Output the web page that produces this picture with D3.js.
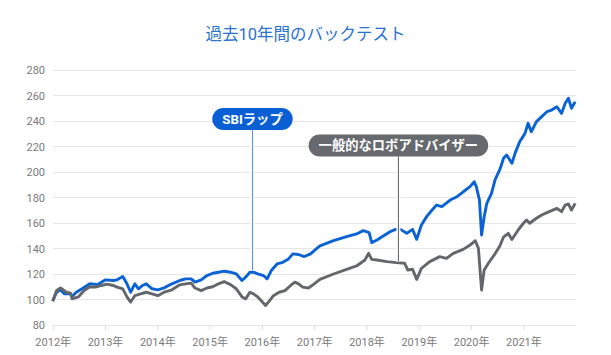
<!DOCTYPE html>
<html><head><meta charset="utf-8">
<script src="https://cdn.jsdelivr.net/npm/d3@7"></script>
<style>
html,body{margin:0;padding:0;background:#fff;}
svg{display:block;font-family:Roboto,"Noto Sans CJK JP",sans-serif;}
</style></head>
<body><svg id="c" width="611" height="355"></svg>
<script>
const chartTitle = "過去10年間のバックテスト";
const seriesNames = ["SBIラップ", "一般的なロボアドバイザー"];
const annotationYears = [2015.82, 2018.61];
const yTickValues = [80, 100, 120, 140, 160, 180, 200, 220, 240, 260, 280];
const xTickYears = [2012, 2013, 2014, 2015, 2016, 2017, 2018, 2019, 2020, 2021];

// [decimal year, value]
const sbiData = [
[2012.00,99],[2012.075,105.7],[2012.15,107.6],[2012.22,104.4],[2012.34,104.4],[2012.37,102.3],
[2012.45,105.7],[2012.56,108.4],[2012.71,112.3],[2012.86,111.7],[2013.01,115.4],[2013.16,114.9],
[2013.23,115.4],[2013.34,118],[2013.42,112.3],[2013.49,105.7],[2013.57,112.3],[2013.64,108.4],
[2013.72,111],[2013.79,112.3],[2013.90,108.4],[2014.01,107.6],[2014.13,109.1],[2014.28,112.3],
[2014.43,114.9],[2014.54,116.2],[2014.65,116.2],[2014.72,113.6],[2014.84,115.4],[2014.95,118.8],
[2015.06,120.6],[2015.17,121.4],[2015.28,122.2],[2015.40,121.4],[2015.51,120.1],[2015.62,114.9],
[2015.69,117.5],[2015.77,121.4],[2015.84,121.4],[2015.92,120.1],[2016.03,118.8],[2016.10,116.2],
[2016.18,122.7],[2016.29,127.9],[2016.40,129.2],[2016.51,131.8],[2016.59,135.8],[2016.70,135.3],
[2016.81,133.7],[2016.93,135.8],[2017.04,139.7],[2017.11,142],[2017.37,146.1],[2017.62,149.3],
[2017.81,151.4],[2017.94,154],[2018.05,152.4],[2018.10,144.6],[2018.20,146.7],[2018.32,149.8],
[2018.45,153.2],[2018.56,155],[2018.65,155],[2018.77,151.9],[2018.88,155],[2018.96,147.2],
[2019.05,158.4],[2019.15,165],[2019.25,170],[2019.34,174.1],[2019.44,172.8],[2019.60,178],
[2019.73,180.6],[2019.85,184.5],[2019.98,188.5],[2020.06,192.4],[2020.10,188.5],[2020.16,178],
[2020.20,150.6],[2020.25,164.9],[2020.30,175.4],[2020.39,183.3],[2020.46,194],[2020.55,202],
[2020.62,210.7],[2020.68,213.3],[2020.78,206.8],[2020.84,214.6],[2020.93,223.8],[2021.03,230.3],
[2021.09,238.2],[2021.15,231.6],[2021.25,239.5],[2021.35,243.4],[2021.45,247.3],[2021.54,248.6],
[2021.64,251.2],[2021.73,246],[2021.80,253.9],[2021.86,257.8],[2021.92,250],[2021.99,255.1]
];
const roboData = [
[2012.00,98.7],[2012.075,107],[2012.15,109],[2012.26,105.7],[2012.34,105],[2012.37,100.5],
[2012.49,102],[2012.60,107],[2012.71,110],[2012.82,109.7],[2012.93,111],[2013.04,112],
[2013.16,111],[2013.23,109.7],[2013.34,108.4],[2013.42,102],[2013.49,98],[2013.57,103],
[2013.68,104.4],[2013.79,105.7],[2013.90,104.4],[2014.01,103],[2014.13,105.7],[2014.28,107.6],
[2014.43,111.5],[2014.54,112.3],[2014.65,112.8],[2014.72,109],[2014.84,107],[2014.95,109],
[2015.06,110],[2015.17,112.3],[2015.28,114],[2015.40,111.7],[2015.51,108.4],[2015.62,102],
[2015.69,100.5],[2015.77,105.7],[2015.84,104.4],[2015.92,102],[2016.01,98],[2016.07,95.3],
[2016.14,98.7],[2016.22,103],[2016.33,105.7],[2016.44,107],[2016.55,111],[2016.63,113.6],
[2016.70,112.3],[2016.78,109.7],[2016.89,109],[2017.00,112.3],[2017.11,115.8],[2017.37,120],
[2017.62,123.7],[2017.81,126.3],[2017.97,131],[2018.04,136.2],[2018.10,131.5],[2018.20,131],
[2018.39,129.7],[2018.57,128.9],[2018.73,128.4],[2018.79,123.1],[2018.88,123.7],[2018.96,115.8],
[2019.05,124.4],[2019.21,129.7],[2019.40,133.6],[2019.53,132.3],[2019.66,136.2],[2019.85,139.3],
[2019.98,142.7],[2020.08,146.1],[2020.14,140.1],[2020.20,107.5],[2020.25,123.1],[2020.33,128.4],
[2020.46,136],[2020.55,142],[2020.62,149],[2020.71,151.9],[2020.78,147],[2020.90,154.5],
[2021.00,159.8],[2021.06,162.4],[2021.12,159.8],[2021.25,163.7],[2021.35,166.3],[2021.45,168.1],
[2021.54,169.7],[2021.64,171.5],[2021.73,168.9],[2021.80,174.1],[2021.86,174.9],[2021.92,170.2],
[2021.99,175.4]
];

const svg = d3.select("#c");
const x = d3.scaleLinear().domain([2012, 2022]).range([52.7, 575.7]);
const y = d3.scaleLinear().domain([80, 280]).range([325, 70]);

const blue = "#0a62d6", gray = "#63666b";

svg.append("text").attr("x", 305.5).attr("y", 40).attr("text-anchor", "middle")
  .attr("font-size", 16.5).attr("fill", "#2a72d2").text(chartTitle);

// grid
svg.append("g").selectAll("line").data(yTickValues).join("line")
  .attr("x1", x(2012)).attr("x2", x(2022))
  .attr("y1", d => y(d)).attr("y2", d => y(d))
  .attr("stroke", "#e6e6e6").attr("stroke-width", 1).attr("shape-rendering", "crispEdges");

const yAxis = svg.append("g").attr("transform", "translate(45,0)")
  .call(d3.axisLeft(y).tickValues(yTickValues).tickSize(0).tickPadding(0));
yAxis.select(".domain").remove();
yAxis.selectAll("text").attr("font-size", 11).attr("fill", "#7a7a7a").attr("font-family", "Roboto, sans-serif");

const xAxis = svg.append("g").attr("transform", `translate(0,${y(80)})`)
  .call(d3.axisBottom(x).tickValues(xTickYears).tickFormat(d => d + "年").tickSize(5).tickPadding(8));
xAxis.select(".domain").remove();
xAxis.selectAll(".tick line").attr("stroke", "#dcdcdc");
xAxis.selectAll("text").attr("font-size", 11).attr("fill", "#7a7a7a").attr("font-family", "Roboto, 'Noto Sans CJK JP', sans-serif");

const line = d3.line().x(d => x(d[0])).y(d => y(d[1])).curve(d3.curveLinear);

svg.append("path").datum(sbiData).attr("d", line).attr("fill", "none")
  .attr("stroke", blue).attr("stroke-width", 2.9).attr("stroke-linejoin", "round");
svg.append("path").datum(roboData).attr("d", line).attr("fill", "none")
  .attr("stroke", gray).attr("stroke-width", 2.9).attr("stroke-linejoin", "round");

function valueAt(data, t) {
  const i = d3.bisector(d => d[0]).left(data, t);
  const a = data[Math.max(0, i - 1)], b = data[Math.min(data.length - 1, i)];
  if (b[0] === a[0]) return a[1];
  return a[1] + (b[1] - a[1]) * (t - a[0]) / (b[0] - a[0]);
}

const labels = [
  {name: seriesNames[0], year: annotationYears[0], data: sbiData, top: 108, fill: "#0a5fd4", conn: "#4b8fe6"},
  {name: seriesNames[1], year: annotationYears[1], data: roboData, top: 134.5, fill: "#66696e", conn: "#5c5f64"}
];
labels.forEach(l => {
  const cx = x(l.year);
  const endY = y(valueAt(l.data, l.year)) - 1.5;
  svg.append("line").attr("x1", cx).attr("x2", cx).attr("y1", l.top + 22).attr("y2", endY)
    .attr("stroke", "#fff").attr("stroke-width", 4);
  svg.append("line").attr("x1", cx).attr("x2", cx).attr("y1", l.top + 22).attr("y2", endY)
    .attr("stroke", l.conn).attr("stroke-width", 1);
  const g = svg.append("g");
  const t = g.append("text").attr("x", cx).attr("y", l.top + 15.8).attr("text-anchor", "middle")
    .attr("font-size", 13.3).attr("font-weight", "bold").attr("fill", "#fff")
    .attr("font-family", "Roboto, 'Noto Sans CJK JP', sans-serif").text(l.name);
  const w = t.node().getComputedTextLength() + 20;
  g.insert("rect", "text").attr("x", cx - w / 2).attr("y", l.top).attr("width", w).attr("height", 22)
    .attr("rx", 11).attr("fill", l.fill);
});
</script></body></html>
